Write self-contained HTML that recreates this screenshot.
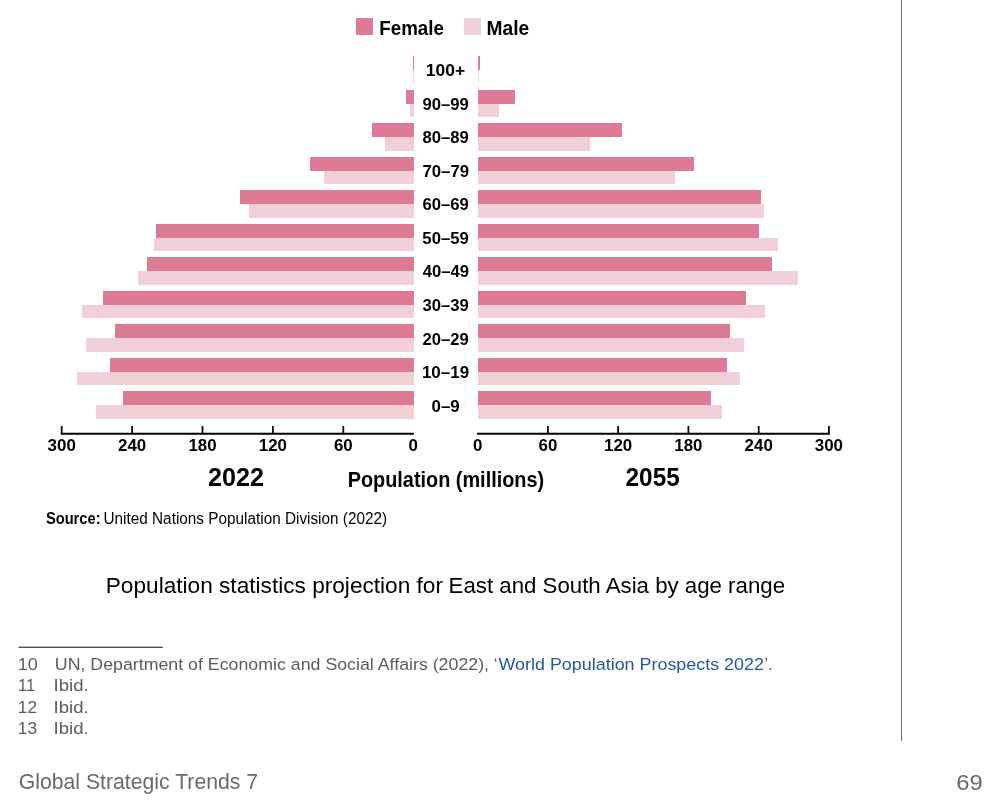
<!DOCTYPE html>
<html><head><meta charset="utf-8">
<style>
html,body{margin:0;padding:0;background:#fff;width:996px;height:802px;overflow:hidden}
svg{display:block;will-change:transform;font-family:"Liberation Sans",sans-serif}
.tick{font-size:16.9px;font-weight:bold;text-anchor:middle;fill:#000}
</style></head>
<body>
<svg width="996" height="802" viewBox="0 0 996 802">
<rect x="356" y="18" width="17" height="17" fill="#DD7B97"/>
<rect x="464" y="18" width="17" height="17" fill="#F1CFD9"/>
<rect x="413" y="56" width="1" height="14" fill="#DD7B97"/>
<rect x="413.2" y="70" width="0.8" height="14" fill="#F1CFD9"/>
<rect x="478" y="56" width="2" height="14" fill="#DD7B97"/>
<rect x="478" y="70" width="0.8" height="14" fill="#F1CFD9"/>
<rect x="406" y="90" width="8" height="14" fill="#DD7B97"/>
<rect x="410" y="104" width="4" height="13" fill="#F1CFD9"/>
<rect x="478" y="90" width="37" height="14" fill="#DD7B97"/>
<rect x="478" y="104" width="21" height="13" fill="#F1CFD9"/>
<rect x="372" y="123" width="42" height="14" fill="#DD7B97"/>
<rect x="385" y="137" width="29" height="14" fill="#F1CFD9"/>
<rect x="478" y="123" width="144" height="14" fill="#DD7B97"/>
<rect x="478" y="137" width="112" height="14" fill="#F1CFD9"/>
<rect x="310" y="157" width="104" height="14" fill="#DD7B97"/>
<rect x="324" y="171" width="90" height="13" fill="#F1CFD9"/>
<rect x="478" y="157" width="216" height="14" fill="#DD7B97"/>
<rect x="478" y="171" width="197" height="13" fill="#F1CFD9"/>
<rect x="240" y="190" width="174" height="14" fill="#DD7B97"/>
<rect x="249" y="204" width="165" height="14" fill="#F1CFD9"/>
<rect x="478" y="190" width="283" height="14" fill="#DD7B97"/>
<rect x="478" y="204" width="286" height="14" fill="#F1CFD9"/>
<rect x="156" y="224" width="258" height="14" fill="#DD7B97"/>
<rect x="154" y="238" width="260" height="13" fill="#F1CFD9"/>
<rect x="478" y="224" width="281" height="14" fill="#DD7B97"/>
<rect x="478" y="238" width="300" height="13" fill="#F1CFD9"/>
<rect x="147" y="257" width="267" height="14" fill="#DD7B97"/>
<rect x="138" y="271" width="276" height="14" fill="#F1CFD9"/>
<rect x="478" y="257" width="294" height="14" fill="#DD7B97"/>
<rect x="478" y="271" width="320" height="14" fill="#F1CFD9"/>
<rect x="103" y="291" width="311" height="14" fill="#DD7B97"/>
<rect x="82" y="305" width="332" height="13" fill="#F1CFD9"/>
<rect x="478" y="291" width="268" height="14" fill="#DD7B97"/>
<rect x="478" y="305" width="287" height="13" fill="#F1CFD9"/>
<rect x="115" y="324" width="299" height="14" fill="#DD7B97"/>
<rect x="86" y="338" width="328" height="14" fill="#F1CFD9"/>
<rect x="478" y="324" width="252" height="14" fill="#DD7B97"/>
<rect x="478" y="338" width="266" height="14" fill="#F1CFD9"/>
<rect x="110" y="358" width="304" height="14" fill="#DD7B97"/>
<rect x="77" y="372" width="337" height="13" fill="#F1CFD9"/>
<rect x="478" y="358" width="249" height="14" fill="#DD7B97"/>
<rect x="478" y="372" width="262" height="13" fill="#F1CFD9"/>
<rect x="123" y="391" width="291" height="14" fill="#DD7B97"/>
<rect x="96" y="405" width="318" height="14" fill="#F1CFD9"/>
<rect x="478" y="391" width="233" height="14" fill="#DD7B97"/>
<rect x="478" y="405" width="244" height="14" fill="#F1CFD9"/>
<line x1="60.6" y1="433.8" x2="413.9" y2="433.8" stroke="#000" stroke-width="2"/>
<line x1="477.1" y1="433.8" x2="829.9" y2="433.8" stroke="#000" stroke-width="2"/>
<line x1="61.7" y1="426" x2="61.7" y2="433.8" stroke="#000" stroke-width="1.75"/>
<line x1="132.1" y1="426" x2="132.1" y2="433.8" stroke="#000" stroke-width="1.75"/>
<line x1="202.5" y1="426" x2="202.5" y2="433.8" stroke="#000" stroke-width="1.75"/>
<line x1="272.9" y1="426" x2="272.9" y2="433.8" stroke="#000" stroke-width="1.75"/>
<line x1="343.3" y1="426" x2="343.3" y2="433.8" stroke="#000" stroke-width="1.75"/>
<line x1="547.9" y1="426" x2="547.9" y2="433.8" stroke="#000" stroke-width="1.75"/>
<line x1="618.1" y1="426" x2="618.1" y2="433.8" stroke="#000" stroke-width="1.75"/>
<line x1="688.4" y1="426" x2="688.4" y2="433.8" stroke="#000" stroke-width="1.75"/>
<line x1="758.7" y1="426" x2="758.7" y2="433.8" stroke="#000" stroke-width="1.75"/>
<line x1="828.9" y1="426" x2="828.9" y2="433.8" stroke="#000" stroke-width="1.75"/>
<text x="61.7" y="450.6" class="tick">300</text>
<text x="132.1" y="450.6" class="tick">240</text>
<text x="202.5" y="450.6" class="tick">180</text>
<text x="272.9" y="450.6" class="tick">120</text>
<text x="343.3" y="450.6" class="tick">60</text>
<text x="413.3" y="450.6" class="tick">0</text>
<text x="477.6" y="450.6" class="tick">0</text>
<text x="547.9" y="450.6" class="tick">60</text>
<text x="618.1" y="450.6" class="tick">120</text>
<text x="688.4" y="450.6" class="tick">180</text>
<text x="758.7" y="450.6" class="tick">240</text>
<text x="828.9" y="450.6" class="tick">300</text>
<text id="legF" x="379.27" y="34.8" font-size="19.9" font-weight="bold" fill="#000" textLength="64.70" lengthAdjust="spacingAndGlyphs">Female</text>
<text id="legM" x="486.48" y="34.8" font-size="19.9" font-weight="bold" fill="#000" textLength="42.68" lengthAdjust="spacingAndGlyphs">Male</text>
<text id="age0" x="425.80" y="76.1" font-size="17.2" font-weight="bold" fill="#000" textLength="39.41" lengthAdjust="spacingAndGlyphs">100+</text>
<text id="age1" x="422.47" y="109.9" font-size="17.2" font-weight="bold" fill="#000" textLength="46.40" lengthAdjust="spacingAndGlyphs">90–99</text>
<text id="age2" x="422.58" y="143.3" font-size="17.2" font-weight="bold" fill="#000" textLength="46.30" lengthAdjust="spacingAndGlyphs">80–89</text>
<text id="age3" x="422.47" y="176.9" font-size="17.2" font-weight="bold" fill="#000" textLength="46.63" lengthAdjust="spacingAndGlyphs">70–79</text>
<text id="age4" x="422.44" y="209.8" font-size="17.2" font-weight="bold" fill="#000" textLength="46.45" lengthAdjust="spacingAndGlyphs">60–69</text>
<text id="age5" x="422.34" y="243.6" font-size="17.2" font-weight="bold" fill="#000" textLength="46.52" lengthAdjust="spacingAndGlyphs">50–59</text>
<text id="age6" x="422.71" y="277" font-size="17.2" font-weight="bold" fill="#000" textLength="46.24" lengthAdjust="spacingAndGlyphs">40–49</text>
<text id="age7" x="422.55" y="311.1" font-size="17.2" font-weight="bold" fill="#000" textLength="46.33" lengthAdjust="spacingAndGlyphs">30–39</text>
<text id="age8" x="422.58" y="344.7" font-size="17.2" font-weight="bold" fill="#000" textLength="46.31" lengthAdjust="spacingAndGlyphs">20–29</text>
<text id="age9" x="421.88" y="378" font-size="17.2" font-weight="bold" fill="#000" textLength="47.26" lengthAdjust="spacingAndGlyphs">10–19</text>
<text id="age10" x="431.52" y="411.5" font-size="17.2" font-weight="bold" fill="#000" textLength="28.24" lengthAdjust="spacingAndGlyphs">0–9</text>
<text id="y2022" x="208.00" y="485.8" font-size="25.3" font-weight="bold" fill="#000" textLength="55.91" lengthAdjust="spacingAndGlyphs">2022</text>
<text id="y2055" x="625.56" y="485.8" font-size="25.3" font-weight="bold" fill="#000" textLength="54.25" lengthAdjust="spacingAndGlyphs">2055</text>
<text id="pop" x="347.64" y="486.7" font-size="21.3" font-weight="bold" fill="#000" textLength="196.54" lengthAdjust="spacingAndGlyphs">Population (millions)</text>
<text id="srcB" x="45.90" y="524.1" font-size="15.8" font-weight="bold" fill="#000" textLength="54.68" lengthAdjust="spacingAndGlyphs">Source:</text>
<text id="srcR" x="103.53" y="524.1" font-size="15.8" fill="#000" textLength="283.59" lengthAdjust="spacingAndGlyphs">United Nations Population Division (2022)</text>
<text id="cap1" x="105.77" y="592.7" font-size="22.2" fill="#000" textLength="337.25" lengthAdjust="spacingAndGlyphs">Population statistics projection for</text>
<text id="cap2" x="448.60" y="592.7" font-size="22.2" fill="#000" textLength="336.44" lengthAdjust="spacingAndGlyphs">East and South Asia by age range</text>
<text id="fn10" x="17.77" y="669.6" font-size="17.4" fill="#5b5b5b" textLength="19.99" lengthAdjust="spacingAndGlyphs">10</text>
<text id="fnA" x="54.81" y="669.6" font-size="17.4" fill="#5b5b5b" textLength="434.21" lengthAdjust="spacingAndGlyphs">UN, Department of Economic and Social Affairs (2022),</text>
<text id="fnQ1" x="493.72" y="669.6" font-size="17.4" fill="#5b5b5b">‘</text>
<text id="fnB" x="498.54" y="669.6" font-size="17.4" fill="#24559f" textLength="265.39" lengthAdjust="spacingAndGlyphs">World Population Prospects 2022</text>
<text id="fnQ2" x="764.16" y="669.6" font-size="17.4" fill="#5b5b5b">’.</text>
<text id="fn11" x="18.03" y="690.9" font-size="17.4" fill="#5b5b5b" textLength="16.98" lengthAdjust="spacingAndGlyphs">11</text>
<text id="fnI1" x="53.63" y="690.9" font-size="17.4" fill="#5b5b5b" textLength="35.13" lengthAdjust="spacingAndGlyphs">Ibid.</text>
<text id="fn12" x="17.83" y="713" font-size="17.4" fill="#5b5b5b" textLength="19.22" lengthAdjust="spacingAndGlyphs">12</text>
<text id="fnI2" x="53.63" y="713" font-size="17.4" fill="#5b5b5b" textLength="35.13" lengthAdjust="spacingAndGlyphs">Ibid.</text>
<text id="fn13" x="17.83" y="734.4" font-size="17.4" fill="#5b5b5b" textLength="19.18" lengthAdjust="spacingAndGlyphs">13</text>
<text id="fnI3" x="53.63" y="734.4" font-size="17.4" fill="#5b5b5b" textLength="35.13" lengthAdjust="spacingAndGlyphs">Ibid.</text>
<text id="ft" x="18.69" y="789.2" font-size="21.4" fill="#696969" textLength="239.40" lengthAdjust="spacingAndGlyphs">Global Strategic Trends 7</text>
<text id="pg" x="956.18" y="789.6" font-size="22.0" fill="#696969" textLength="26.51" lengthAdjust="spacingAndGlyphs">69</text>
<rect x="18.6" y="646.6" width="144.2" height="1.4" fill="#505050"/>
<rect x="901" y="0" width="1" height="741" fill="#666"/>
</svg>
</body></html>
